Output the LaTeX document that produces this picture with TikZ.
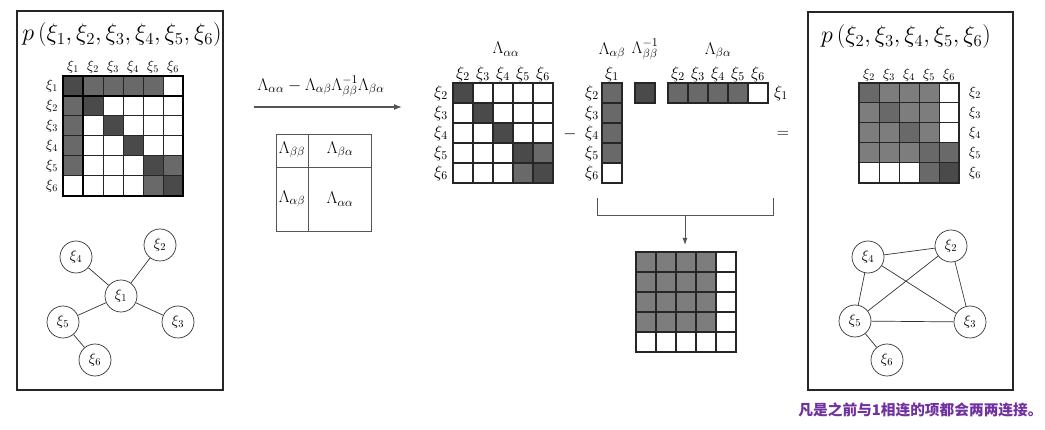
\RequirePackage{fix-cm}
\documentclass[tikz,border=0pt]{standalone}
\usepackage{fontspec}
\newfontfamily\cjk{Noto Sans CJK SC}
\usetikzlibrary{arrows.meta}
\definecolor{dk}{HTML}{4A4A4A}
\definecolor{md}{HTML}{696969}
\definecolor{lt}{HTML}{7D7D7D}
\definecolor{gridc}{HTML}{262626}
\definecolor{linec}{HTML}{555555}
\definecolor{purp}{HTML}{7030A0}
\tikzset{
  cell/.style={draw=gridc, line width=1pt, minimum size=20pt, inner sep=0pt, outer sep=0pt},
  slab/.style={font=\fontsize{14.5}{16}\selectfont, inner sep=0pt},
  mlab/.style={font=\fontsize{17}{19}\selectfont, inner sep=0pt},
  var/.style={circle, draw=black!80, line width=0.7pt, minimum size=32pt, inner sep=0pt, font=\fontsize{15}{17}\selectfont},
  edge/.style={draw=black!80, line width=0.7pt},
  panel/.style={draw=black!85, line width=1.3pt},
  thin/.style={draw=linec, line width=0.9pt},
  title/.style={font=\fontsize{24}{28}\selectfont, inner sep=0pt},
}
\begin{document}
\begin{tikzpicture}[x=1pt,y=-1pt]
\useasboundingbox (0,0) rectangle (1045,430);
% ---------- left panel
\draw[panel] (17,11) rectangle (223,390);
\node[title] (tl) at (122,35) {$p\left(\xi_1,\xi_2,\xi_3,\xi_4,\xi_5,\xi_6\right)$};
\foreach [count=\r] \row in {{dk,md,md,md,md,white},{md,dk,white,white,white,white},{md,white,dk,white,white,white},{md,white,white,dk,white,white},{md,white,white,white,dk,md},{white,white,white,white,md,dk}}{
  \foreach [count=\c] \col in \row {
    \node[cell, fill=\col] (A-\r-\c) at ({53+20*\c},{66+20*\r}) {};
  }
}
\draw[line width=2.6pt, black] (A-1-1.north west) rectangle (A-6-6.south east);
\draw[line width=2.6pt, black] (A-1-1.north east) -- (A-6-1.south east);
\draw[line width=2.6pt, black] (A-1-1.south west) -- (A-1-6.south east);
\foreach \i in {1,...,6}{
  \node[slab] (Ac\i) at ({53+20*\i},67) {$\xi_{\i}$};
  \node[slab] (Ar\i) at (52,{66+20*\i}) {$\xi_{\i}$};
}
\node[var] (l1) at (121,296) {$\xi_1$};
\node[var] (l2) at (160,245) {$\xi_2$};
\node[var] (l3) at (178,322) {$\xi_3$};
\node[var] (l4) at (76,257) {$\xi_4$};
\node[var] (l5) at (63,322) {$\xi_5$};
\node[var] (l6) at (95,360) {$\xi_6$};
\draw[edge] (l1) -- (l2);
\draw[edge] (l1) -- (l3);
\draw[edge] (l1) -- (l4);
\draw[edge] (l1) -- (l5);
\draw[edge] (l5) -- (l6);
% ---------- arrow and block box
\coordinate (as) at (254,107);
\coordinate (ae) at (402,107);
\draw[thin, line width=1.2pt, -{Latex[length=8pt,width=6pt]}] (as) -- (ae);
\node[mlab] (alab) at (321,86) {$\Lambda_{\alpha\alpha}-\Lambda_{\alpha\beta}\Lambda_{\beta\beta}^{-1}\Lambda_{\beta\alpha}$};
\draw[thin] (276,134) rectangle (371,231);
\draw[thin] (308,134) -- (308,231);
\draw[thin] (276,167) -- (371,167);
\node[mlab] (bbb) at (292,150) {$\Lambda_{\beta\beta}$};
\node[mlab] (bba) at (340,150) {$\Lambda_{\beta\alpha}$};
\node[mlab] (bab) at (292,199) {$\Lambda_{\alpha\beta}$};
\node[mlab] (baa) at (340,199) {$\Lambda_{\alpha\alpha}$};
% ---------- Lambda_aa
\foreach [count=\r] \row in {{dk,white,white,white,white},{white,dk,white,white,white},{white,white,dk,white,white},{white,white,white,dk,md},{white,white,white,md,dk}}{
  \foreach [count=\c] \col in \row {
    \node[cell, fill=\col, line width=1.4pt] (B-\r-\c) at ({443+20*\c},{73+20*\r}) {};
  }
}
\foreach [count=\i] \j in {2,...,6}{
  \node[mlab] (Bc\i) at ({443+20*\i},74) {$\xi_{\j}$};
  \node[mlab] (Br\i) at (441,{73+20*\i}) {$\xi_{\j}$};
}
\node[mlab] (Blab) at (506,49) {$\Lambda_{\alpha\alpha}$};
\node[mlab] (minus) at (570,134) {$-$};
% ---------- Lambda_ab
\foreach [count=\r] \col in {md,md,md,md,white}{
  \node[cell, fill=\col, line width=1.4pt] (C-\r) at (612,{73+20*\r}) {};
}
\foreach [count=\i] \j in {2,...,6}{
  \node[mlab] (Cr\i) at (592,{73+20*\i}) {$\xi_{\j}$};
}
\node[mlab] (Cc) at (612,74) {$\xi_1$};
\node[mlab] (Clab) at (612,51) {$\Lambda_{\alpha\beta}$};
% ---------- Lambda_bb^-1
\node[cell, fill=dk, line width=1.4pt] (D) at (645,93) {};
\node[mlab] (Dlab) at (645,49) {$\Lambda_{\beta\beta}^{-1}$};
% ---------- Lambda_ba
\foreach [count=\c] \col in {md,md,md,md,white}{
  \node[cell, fill=\col, line width=1.4pt] (E-\c) at ({658+20*\c},93) {};
}
\foreach [count=\i] \j in {2,...,6}{
  \node[mlab] (Ec\i) at ({658+20*\i},74) {$\xi_{\j}$};
}
\node[mlab] (Er) at (781,93) {$\xi_1$};
\node[mlab] (Elab) at (718,51) {$\Lambda_{\beta\alpha}$};
\node[mlab] (eq) at (783,134) {$=$};
% ---------- bracket and product
\coordinate (k1) at (597,198);
\coordinate (k2) at (773,198);
\coordinate (km) at (685,215);
\coordinate (kt) at (685,245);
\draw[thin] (k1) |- (k2 |- km) -- (k2);
\draw[thin, -{Latex[length=7pt,width=5pt]}] (km) -- (kt);
\foreach \r in {1,...,5}{
  \foreach \c in {1,...,5}{
    \pgfmathsetmacro\isg{(\r<5)&&(\c<5)}
    \ifdim\isg pt>0.5pt
      \node[cell, fill=lt, line width=1.4pt] (F-\r-\c) at ({626+20*\c},{242+20*\r}) {};
    \else
      \node[cell, fill=white, line width=1.4pt] (F-\r-\c) at ({626+20*\c},{242+20*\r}) {};
    \fi
  }
}
% ---------- right panel
\draw[panel] (808,12) rectangle (1013,390);
\node[title] (tr) at (906,37) {$p\left(\xi_2,\xi_3,\xi_4,\xi_5,\xi_6\right)$};
\foreach [count=\r] \row in {{md,lt,lt,lt,white},{lt,md,lt,lt,white},{lt,lt,md,lt,white},{lt,lt,lt,md,md},{white,white,white,md,dk}}{
  \foreach [count=\c] \col in \row {
    \node[cell, fill=\col] (G-\r-\c) at ({849+20*\c},{73+20*\r}) {};
  }
}
\draw[line width=1.2pt, gridc] (G-1-1.north west) rectangle (G-5-5.south east);
\foreach [count=\i] \j in {2,...,6}{
  \node[slab] (Gc\i) at ({849+20*\i},75) {$\xi_{\j}$};
  \node[slab] (Gr\i) at (975,{73+20*\i}) {$\xi_{\j}$};
}
\node[var] (r4) at (868,257) {$\xi_4$};
\node[var] (r2) at (951,246) {$\xi_2$};
\node[var] (r5) at (855,321) {$\xi_5$};
\node[var] (r3) at (970,322) {$\xi_3$};
\node[var] (r6) at (887,360) {$\xi_6$};
\draw[edge] (r4) -- (r2);
\draw[edge] (r4) -- (r5);
\draw[edge] (r4) -- (r3);
\draw[edge] (r2) -- (r5);
\draw[edge] (r2) -- (r3);
\draw[edge] (r5) -- (r3);
\draw[edge] (r5) -- (r6);
\node[text=purp, font=\cjk\bfseries\fontsize{14.7}{17}\selectfont, inner sep=0pt] (note) at (920.5,410) {凡是之前与1相连的项都会两两连接。};
\end{tikzpicture}
\end{document}
